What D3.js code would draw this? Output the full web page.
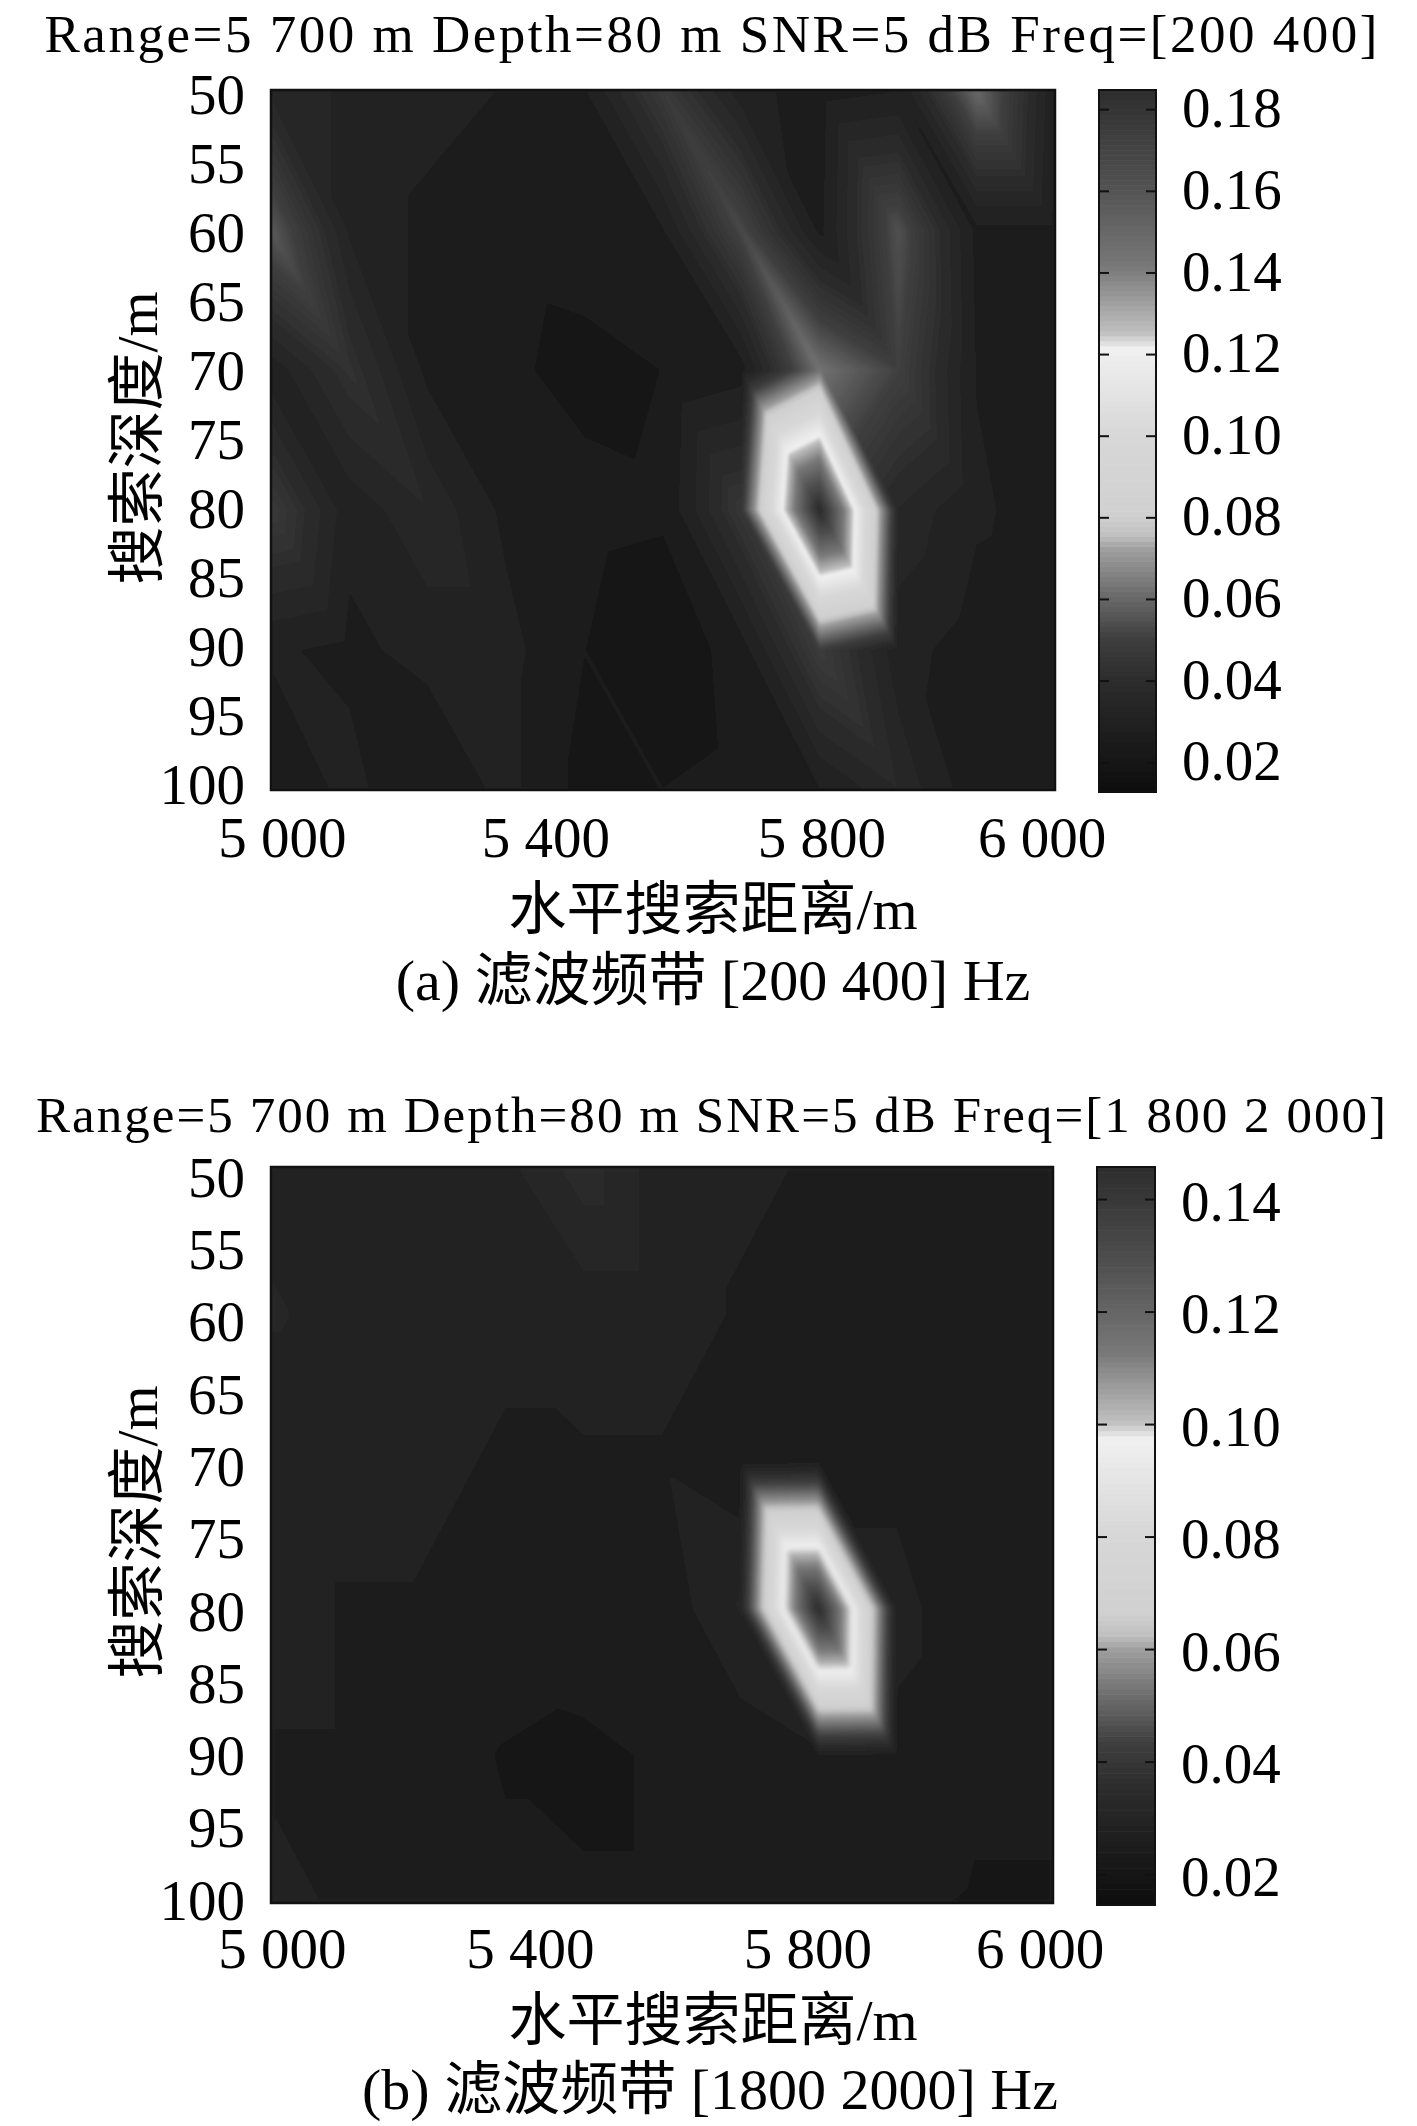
<!DOCTYPE html>
<html>
<head>
<meta charset="utf-8">
<script src="https://cdnjs.cloudflare.com/ajax/libs/d3/7.8.5/d3.min.js"></script>
<style>
  body { margin: 0; background: #fff; }
  text { font-family: "Liberation Serif", "Noto Sans CJK SC", serif; fill: #000; }
</style>
</head>
<body>
<div id="chart"></div>
<script>
// grid: depth rows, range columns
var depths = [50, 60, 70, 80, 90, 100];
var ranges = [5000, 5100, 5200, 5300, 5400, 5500, 5600, 5700, 5800, 5900, 6000];

var valuesA = [
  [.035, .032, .030, .028, .028, .047, .030, .026, .028, .060, .029],
  [.056, .032, .027, .025, .026, .028, .052, .027, .054, .027, .027],
  [.030, .042, .027, .024, .021, .023, .026, .062, .050, .028, .026],
  [.047, .030, .036, .027, .025, .024, .045, .187, .036, .029, .026],
  [.029, .027, .030, .030, .023, .018, .026, .048, .030, .026, .025],
  [.023, .030, .023, .030, .021, .023, .025, .028, .036, .025, .023]
];
var valuesB = [
  [.029, .028, .028, .029, .034, .028, .027, .026, .025, .025, .024],
  [.030, .029, .028, .027, .028, .028, .026, .025, .025, .024, .024],
  [.028, .028, .027, .026, .026, .026, .024, .025, .025, .023, .023],
  [.028, .026, .026, .025, .026, .024, .030, .147, .028, .023, .023],
  [.026, .026, .024, .022, .021, .023, .024, .026, .025, .023, .023],
  [.027, .026, .025, .023, .023, .023, .023, .023, .023, .022, .022]
];

// colormap (grey print of jet), position along the bar -> grey level
var cmapPos = [0, .155, .214, .273, .344, .362, .391, .509, .628, .651, .693, .746, .864, 1];
var cmapGrey = [14, 44, 62, 104, 160, 192, 208, 216, 240, 192, 160, 120, 80, 44];

var yTickValues = [50, 55, 60, 65, 70, 75, 80, 85, 90, 95, 100];
var xTickLabels = ["5 000", "5 400", "5 800", "6 000"];
var xTickPosA = [5014, 5350, 5702, 5983];
var xTickPosB = [5014, 5331, 5686, 5983];
var barTicksA = [0.02, 0.04, 0.06, 0.08, 0.10, 0.12, 0.14, 0.16, 0.18];
var barTicksB = [0.02, 0.04, 0.06, 0.08, 0.10, 0.12, 0.14];

var svg = d3.select("#chart").append("svg")
  .attr("width", 1417).attr("height", 2126);

var defs = svg.append("defs");
defs.append("filter").attr("id", "softA").append("feGaussianBlur").attr("stdDeviation", 1.8);
defs.append("filter").attr("id", "softB").append("feGaussianBlur").attr("stdDeviation", 2.6);

var greyOf = d3.scaleLinear().domain(cmapPos).range(cmapGrey).clamp(true);

// value at a point, each grid cell split in two triangles like shading interp
function sample(values, r, d) {
  var fx = (r - ranges[0]) / 100, fy = (d - depths[0]) / 10;
  var i = Math.min(Math.floor(fx), ranges.length - 2), j = Math.min(Math.floor(fy), depths.length - 2);
  var u = fx - i, v = fy - j;
  var a = values[j][i], b = values[j][i + 1], c = values[j + 1][i], e = values[j + 1][i + 1];
  if (u >= v) return a + (b - a) * u + (e - b) * v;
  return a + (c - a) * v + (e - c) * u;
}

function drawPanel(p) {
  var x = d3.scaleLinear().domain([5000, 6000]).range([p.left, p.right]);
  var y = d3.scaleLinear().domain([50, 100]).range([p.top, p.bottom]);
  var barY = d3.scaleLinear().domain(p.barDomain).range([p.bottom + 2, p.top]);
  var toPos = d3.scaleLinear().domain(p.barDomain).range([0, 1]).clamp(true);

  // heat map pixels
  var w = p.right - p.left, h = p.bottom - p.top;
  var canvas = document.createElement("canvas");
  canvas.width = w; canvas.height = h;
  var ctx = canvas.getContext("2d");
  var img = ctx.createImageData(w, h);
  for (var py = 0; py < h; py++) {
    for (var px = 0; px < w; px++) {
      var val = sample(p.values, x.invert(p.left + px + .5), y.invert(p.top + py + .5));
      var g = greyOf(toPos(val));
      var k = (py * w + px) * 4;
      img.data[k] = img.data[k + 1] = img.data[k + 2] = g;
      img.data[k + 3] = 255;
    }
  }
  ctx.putImageData(img, 0, 0);

  // dark rect behind, so the blur does not fade to white at the frame
  svg.append("rect")
    .attr("x", p.left).attr("y", p.top).attr("width", w).attr("height", h)
    .attr("fill", "#262626");

  var clipId = "clip" + p.id;
  defs.append("clipPath").attr("id", clipId).append("rect")
    .attr("x", p.left).attr("y", p.top).attr("width", w).attr("height", h);
  svg.append("g").attr("clip-path", "url(#" + clipId + ")")
    .append("image")
    .attr("href", canvas.toDataURL())
    .attr("x", p.left).attr("y", p.top).attr("width", w).attr("height", h)
    .attr("filter", "url(#soft" + p.id + ")");

  svg.append("rect")
    .attr("x", p.left).attr("y", p.top).attr("width", w).attr("height", h)
    .attr("fill", "none").attr("stroke", "#111").attr("stroke-width", 2.5);

  // axes
  var yLabels = d3.scaleLinear().domain([50, 100]).range(p.yLabelRange);
  var yAxis = svg.append("g").attr("transform", "translate(" + (p.left - 26) + ",0)")
    .call(d3.axisLeft(yLabels).tickValues(yTickValues).tickSize(0).tickPadding(0));
  yAxis.select(".domain").remove();
  yAxis.selectAll("text").attr("font-size", 57);
  yAxis.attr("font-family", null);

  var xAxis = svg.append("g").attr("transform", "translate(0," + p.xTickY + ")")
    .call(d3.axisBottom(x).tickValues(p.xTickPos).tickSize(0).tickPadding(0)
      .tickFormat(function (d, i) { return xTickLabels[i]; }));
  xAxis.select(".domain").remove();
  xAxis.selectAll("text").attr("font-size", 57).attr("dy", 0);
  xAxis.attr("font-family", null);

  // colour bar
  var barSteps = d3.range(0, 1, 1 / 140);
  var barX0 = p.barLeft, barW = p.barRight - p.barLeft;
  svg.append("g").selectAll("rect").data(barSteps).enter().append("rect")
    .attr("x", barX0).attr("width", barW)
    .attr("y", function (d) { return barY(p.barDomain[0] + (d + 1 / 140) * (p.barDomain[1] - p.barDomain[0])); })
    .attr("height", (p.bottom + 2 - p.top) / 140 + .6)
    .attr("fill", function (d) { var g = greyOf(d); return d3.rgb(g, g, g); });

  var barRightAxis = svg.append("g").attr("transform", "translate(" + p.barRight + ",0)")
    .call(d3.axisRight(barY).tickValues(p.barTicks).tickSize(-10).tickPadding(26).tickFormat(d3.format(".2f")));
  barRightAxis.select(".domain").remove();
  barRightAxis.selectAll("line").attr("stroke", "#111").attr("stroke-width", 2);
  barRightAxis.selectAll("text").attr("font-size", 57).attr("dy", p.barDy);
  barRightAxis.attr("font-family", null);

  var barLeftAxis = svg.append("g").attr("transform", "translate(" + barX0 + ",0)")
    .call(d3.axisLeft(barY).tickValues(p.barTicks).tickSize(-10).tickFormat(""));
  barLeftAxis.select(".domain").remove();
  barLeftAxis.selectAll("line").attr("stroke", "#111").attr("stroke-width", 2);

  svg.append("rect")
    .attr("x", barX0).attr("y", p.top).attr("width", barW).attr("height", p.bottom + 2 - p.top)
    .attr("fill", "none").attr("stroke", "#111").attr("stroke-width", 2);

  // texts
  svg.append("text").attr("x", p.titleX).attr("y", p.titleY)
    .attr("text-anchor", "middle").attr("font-size", p.titleSize)
    .attr("textLength", p.titleLen).attr("lengthAdjust", "spacing")
    .text(p.title);
  svg.append("text").attr("x", 713).attr("y", p.xLabelY)
    .attr("text-anchor", "middle").attr("font-size", 58)
    .text("水平搜索距离/m");
  svg.append("text").attr("x", p.captionX).attr("y", p.captionY)
    .attr("text-anchor", "middle").attr("font-size", 58)
    .text(p.caption);
  svg.append("text")
    .attr("transform", "translate(157," + p.yLabelMid + ") rotate(-90)")
    .attr("text-anchor", "middle").attr("font-size", 58)
    .text("搜索深度/m");
}

drawPanel({
  id: "A", values: valuesA, xTickPos: xTickPosA, barTicks: barTicksA,
  left: 271, right: 1055, top: 90, bottom: 790,
  barLeft: 1099, barRight: 1156, barDomain: [0.0127, 0.1847], barDy: "0.31em",
  yLabelRange: [95, 785], xTickY: 857, xLabelY: 929, captionY: 1000, yLabelMid: 438,
  titleX: 711, titleY: 52, titleLen: 1333, titleSize: 53,
  title: "Range=5 700 m Depth=80 m SNR=5 dB Freq=[200 400]",
  caption: "(a) 滤波频带 [200 400] Hz", captionX: 713
});

drawPanel({
  id: "B", values: valuesB, xTickPos: xTickPosB, barTicks: barTicksB,
  left: 271, right: 1053, top: 1167, bottom: 1903,
  barLeft: 1097, barRight: 1155, barDomain: [0.0145, 0.1457], barDy: "0.37em",
  yLabelRange: [1178, 1901], xTickY: 1968, xLabelY: 2040, captionY: 2109, yLabelMid: 1532,
  titleX: 711, titleY: 1132, titleLen: 1350, titleSize: 51,
  title: "Range=5 700 m Depth=80 m SNR=5 dB Freq=[1 800 2 000]",
  caption: "(b) 滤波频带 [1800 2000] Hz", captionX: 710
});
</script>
</body>
</html>
